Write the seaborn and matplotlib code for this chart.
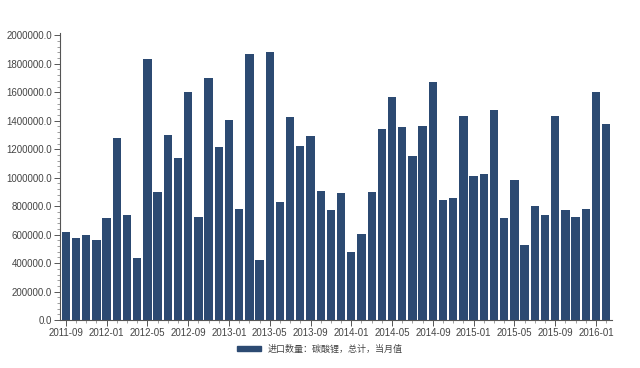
import matplotlib
matplotlib.use("Agg")
import matplotlib.pyplot as plt
import seaborn as sns
import pandas as pd
import numpy as np
from matplotlib.ticker import MultipleLocator, FormatStrFormatter
from matplotlib.patches import Patch

months = pd.period_range("2011-09", "2016-02", freq="M").strftime("%Y-%m").tolist()
values = [620000, 575000, 600000, 565000, 715000, 1280000, 735000, 435000,
          1830000, 900000, 1300000, 1135000, 1600000, 725000, 1700000, 1215000,
          1405000, 780000, 1870000, 420000, 1880000, 830000, 1425000, 1225000,
          1290000, 910000, 770000, 890000, 475000, 605000, 900000, 1345000,
          1565000, 1355000, 1155000, 1360000, 1670000, 845000, 855000, 1430000,
          1015000, 1025000, 1475000, 715000, 985000, 530000, 800000, 740000,
          1435000, 775000, 725000, 780000, 1605000, 1375000]
series_name = "进口数量：碳酸锂，总计，当月值"

df = pd.DataFrame({"month": months, "value": values})

sns.set_theme(style="white")
plt.rcParams['font.family'] = ['Liberation Sans', 'Noto Sans CJK SC', 'DejaVu Sans']

fig = plt.figure(figsize=(6.4, 3.68), dpi=100)
ax = fig.add_axes([0.094, 0.130, 0.862, 0.780])
color = "#2c4a72"
sns.barplot(data=df, x="month", y="value", color=color, saturation=1, width=0.82,
            linewidth=0, edgecolor=color, ax=ax)

ax.set_xlim(-0.55, len(months) - 0.45)
ax.set_ylim(0, 2015000)
ax.set_xlabel("")
ax.set_ylabel("")
pos = list(range(0, len(months), 4))
ax.set_xticks(pos)
ax.set_xticklabels([months[i] for i in pos])
ax.xaxis.set_minor_locator(MultipleLocator(1))
ax.yaxis.set_major_locator(MultipleLocator(200000))
ax.yaxis.set_minor_locator(MultipleLocator(40000))
ax.yaxis.set_major_formatter(FormatStrFormatter("%.1f"))

for s in ["top", "right"]:
    ax.spines[s].set_visible(False)
for s in ["left", "bottom"]:
    ax.spines[s].set_color("#555555")
    ax.spines[s].set_linewidth(0.8)
ax.tick_params(axis="both", which="major", length=4, width=0.7, color="#555555",
               labelsize=7, labelcolor="#444444", bottom=True, left=True, pad=2)
ax.tick_params(axis="both", which="minor", length=2, width=0.5, color="#777777",
               bottom=True, left=True)

handle = Patch(facecolor=color, edgecolor=color)
fig.legend([handle], [series_name], loc="center", bbox_to_anchor=(0.50, 0.052),
           frameon=False, fontsize=6.5, handlelength=2.6, handleheight=0.5,
           labelcolor="#444444", prop={"family": ["Noto Sans CJK SC"], "size": 6.5})

fig.savefig("out.png", dpi=100)
